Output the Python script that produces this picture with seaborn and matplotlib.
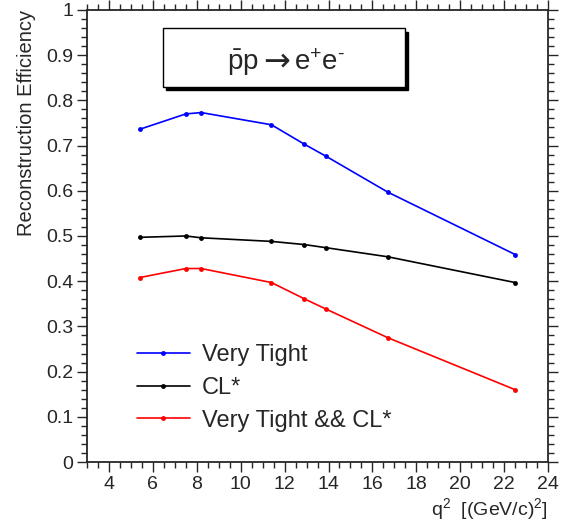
import pandas as pd
import matplotlib
matplotlib.use('Agg')
import matplotlib.pyplot as plt
from matplotlib.patches import Rectangle
from matplotlib.ticker import MultipleLocator, FuncFormatter
import seaborn as sns

# q^2 points and efficiencies
q2 = [5.4, 7.5, 8.2, 11.4, 12.9, 13.9, 16.7, 22.5]
very_tight = [0.736, 0.770, 0.773, 0.746, 0.703, 0.676, 0.597, 0.459]
cl_star = [0.497, 0.500, 0.496, 0.488, 0.481, 0.474, 0.454, 0.397]
vt_and_cl = [0.408, 0.428, 0.428, 0.397, 0.361, 0.338, 0.275, 0.160]

labels = ['Very Tight', 'CL*', 'Very Tight && CL*']
colors = ['#0000ff', '#000000', '#ff0000']

df = pd.DataFrame({
    'q2': q2 * 3,
    'eff': very_tight + cl_star + vt_and_cl,
    'sel': [labels[0]] * len(q2) + [labels[1]] * len(q2) + [labels[2]] * len(q2),
})

sns.set_style('ticks')
plt.rcParams['font.family'] = ['Liberation Sans', 'DejaVu Sans']
plt.rcParams['mathtext.fontset'] = 'custom'
plt.rcParams['mathtext.rm'] = 'Liberation Sans'
plt.rcParams['mathtext.it'] = 'Liberation Sans:italic'

fig = plt.figure(figsize=(5.65, 5.23), dpi=100)
ax = fig.add_axes([0.154, 0.1166, 0.816, 0.8644])

sns.lineplot(data=df, x='q2', y='eff', hue='sel', hue_order=labels,
             palette=colors, marker='o', markersize=3.5, markeredgewidth=0,
             linewidth=1.2, ax=ax)

ax.set_xlim(3, 24)
ax.set_ylim(0, 1)
ax.xaxis.set_major_locator(MultipleLocator(2))
ax.xaxis.set_minor_locator(MultipleLocator(0.5))
ax.yaxis.set_major_locator(MultipleLocator(0.1))
ax.yaxis.set_minor_locator(MultipleLocator(0.02))
ax.yaxis.set_major_formatter(FuncFormatter(lambda v, p: f'{v:.1f}'.rstrip('0').rstrip('.') if v not in (0, 1) else str(int(round(v)))))
ax.xaxis.set_major_formatter(FuncFormatter(lambda v, p: f'{int(round(v))}'))

ax.tick_params(which='both', top=True, right=True, direction='out',
               labelsize=14, width=1, pad=3)
ax.tick_params(which='major', length=7)
ax.tick_params(which='minor', length=4)
for s in ax.spines.values():
    s.set_linewidth(1.3)

ax.set_xlabel(r'q$^{2}$  [(GeV/c)$^{2}$]', fontsize=14, loc='right', labelpad=2)
ax.set_ylabel('Reconstruction Efficiency', fontsize=14.5, loc='top', labelpad=7)

leg = ax.legend(loc='lower left', bbox_to_anchor=(0.108, 0.067), frameon=False,
                fontsize=17, handlelength=2.25, handletextpad=0.5,
                labelspacing=0.46, borderpad=0, borderaxespad=0)

# title box with shadow
ax.add_patch(Rectangle((0.172, 0.822), 0.525, 0.13, transform=ax.transAxes,
                       facecolor='black', edgecolor='black', zorder=5, clip_on=False))
ax.add_patch(Rectangle((0.165, 0.830), 0.525, 0.13, transform=ax.transAxes,
                       facecolor='white', edgecolor='black', linewidth=1, zorder=6, clip_on=False))
ax.text(0.372, 0.867, r'$\bar{\rm p}{\rm p}$', transform=ax.transAxes,
        ha='right', va='baseline', fontsize=20, zorder=7)
ax.text(0.411, 0.867, '\u2192', transform=ax.transAxes, family='DejaVu Sans',
        ha='center', va='baseline', fontsize=23, zorder=7)
ax.text(0.450, 0.867, '$\\rm e^{+}e^{\\text{-}}$', transform=ax.transAxes,
        ha='left', va='baseline', fontsize=20, zorder=7)

fig.savefig('out.png', dpi=100)
